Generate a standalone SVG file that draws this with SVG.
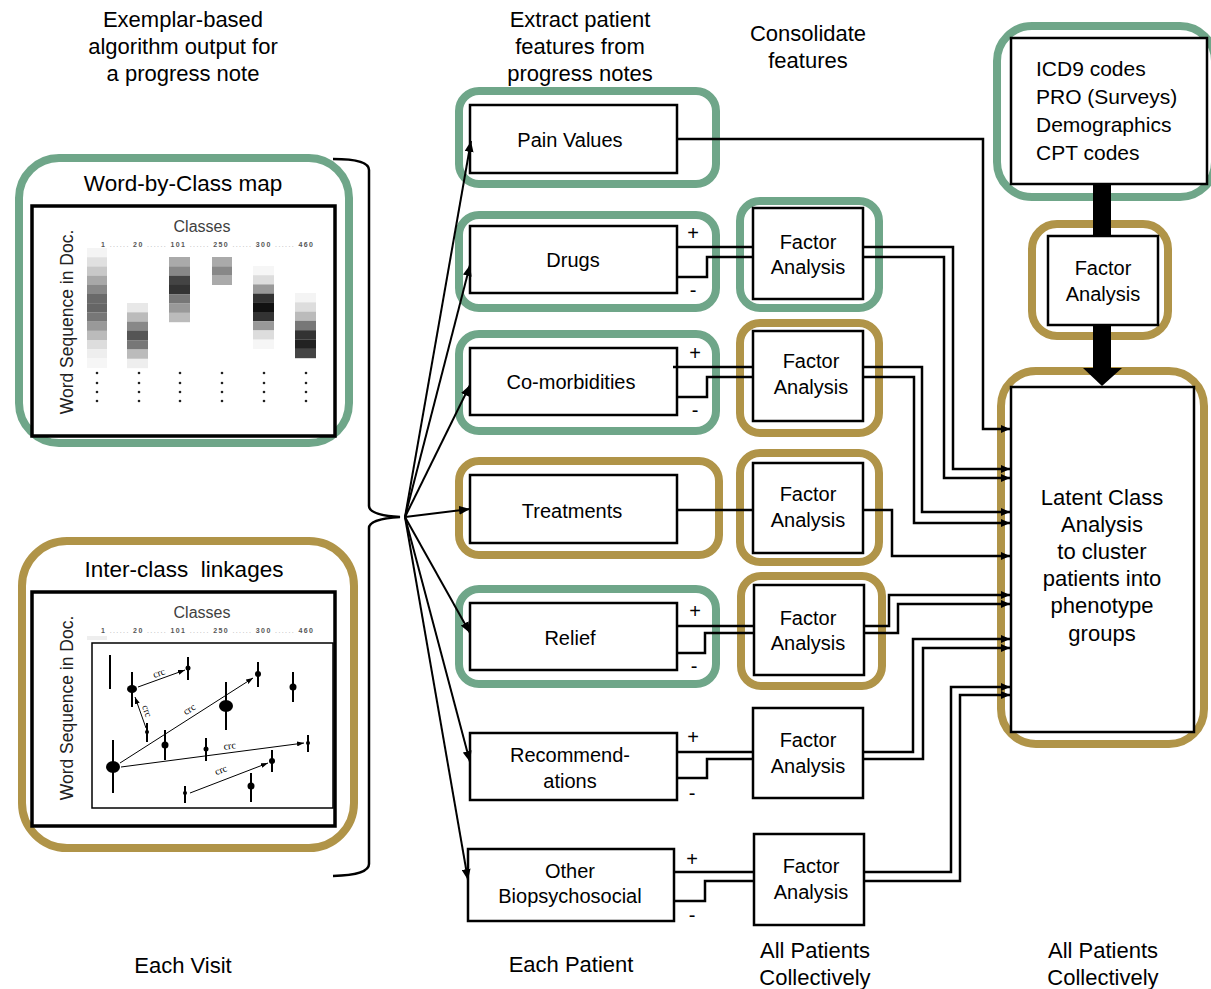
<svg xmlns="http://www.w3.org/2000/svg" width="1211" height="989" viewBox="0 0 1211 989">
<defs>
<style>
text{font-family:"Liberation Sans",Arial,sans-serif;fill:#000}
.lbl{font-size:20px;text-anchor:middle}
.hdr{font-size:22px;text-anchor:middle}
.ptl{font-size:22.5px;text-anchor:middle}
.lat{font-size:22px;text-anchor:middle}
.pm{font-size:20px;text-anchor:middle}
.box{fill:#fff;stroke:#000;stroke-width:2.5}
.inner{fill:#fff;stroke:#000;stroke-width:3.5}
.gf{fill:none;stroke:#6FA689;stroke-width:8}
.yf{fill:none;stroke:#B09448;stroke-width:8}
.conn{fill:none;stroke:#000;stroke-width:2.5}
.fan{fill:none;stroke:#000;stroke-width:2}
.cls{font-size:16px;fill:#404040;text-anchor:middle}
.num{font-size:7px;font-weight:bold;fill:#555}
.numd{fill:#aaa;font-weight:normal}
.vt{font-size:17.5px;fill:#222;text-anchor:middle}
.sc{stroke:#000;stroke-width:2}
.ar{stroke:#000;stroke-width:1;fill:none}
.crc{font-family:"Liberation Serif","Times New Roman",serif;font-size:10px;text-anchor:middle}
</style>
<marker id="ah" markerUnits="userSpaceOnUse" markerWidth="9" markerHeight="8" refX="9" refY="4" orient="auto"><path d="M0,0 L9,4 L0,8 z" fill="#000"/></marker>
<marker id="fh" markerUnits="userSpaceOnUse" markerWidth="11" markerHeight="9" refX="11" refY="4.5" orient="auto"><path d="M0,0 L11,4.5 L0,9 z" fill="#000"/></marker>
<marker id="sh" markerUnits="userSpaceOnUse" markerWidth="7" markerHeight="5" refX="7" refY="2.5" orient="auto"><path d="M0,0 L7,2.5 L0,5 z" fill="#000"/></marker>
</defs>
<rect width="1211" height="989" fill="#fff"/>

<!-- headers -->
<g id="headers">
<text class="hdr" x="183" y="27">Exemplar-based</text>
<text class="hdr" x="183" y="54">algorithm output for</text>
<text class="hdr" x="183" y="81">a progress note</text>
<text class="hdr" x="580" y="27">Extract patient</text>
<text class="hdr" x="580" y="54">features from</text>
<text class="hdr" x="580" y="81">progress notes</text>
<text class="hdr" x="808" y="41">Consolidate</text>
<text class="hdr" x="808" y="68">features</text>
<text class="hdr" x="183" y="973">Each Visit</text>
<text class="hdr" x="571" y="972">Each Patient</text>
<text class="hdr" x="815" y="958">All Patients</text>
<text class="hdr" x="815" y="985">Collectively</text>
<text class="hdr" x="1103" y="958">All Patients</text>
<text class="hdr" x="1103" y="985">Collectively</text>
</g>

<!-- Word-by-Class map panel -->
<g id="word-by-class">
<rect class="gf" x="19" y="158" width="330" height="285" rx="40"/>
<text class="ptl" x="183" y="191">Word-by-Class map</text>
<rect class="inner" x="32" y="206" width="303" height="230"/>
<text class="cls" x="202" y="232">Classes</text>
<text class="num" x="101" y="247" textLength="212" lengthAdjust="spacing">1 <tspan class="numd">......</tspan> 20 <tspan class="numd">......</tspan> 101 <tspan class="numd">......</tspan> 250 <tspan class="numd">......</tspan> 300 <tspan class="numd">......</tspan> 460</text>
<text class="vt" transform="translate(73,322) rotate(-90)">Word Sequence in Doc.</text>
<g id="col1">
<rect x="87" y="248" width="20" height="9.3" fill="#f4f4f4"/>
<rect x="87" y="257.2" width="20" height="9.3" fill="#e0e0e0"/>
<rect x="87" y="266.4" width="20" height="9.3" fill="#c8c8c8"/>
<rect x="87" y="275.6" width="20" height="9.3" fill="#a8a8a8"/>
<rect x="87" y="284.8" width="20" height="9.3" fill="#888"/>
<rect x="87" y="294" width="20" height="9.3" fill="#6a6a6a"/>
<rect x="87" y="303.2" width="20" height="9.3" fill="#666"/>
<rect x="87" y="312.4" width="20" height="9.3" fill="#777"/>
<rect x="87" y="321.6" width="20" height="9.3" fill="#999"/>
<rect x="87" y="330.8" width="20" height="9.3" fill="#bbb"/>
<rect x="87" y="340" width="20" height="9.3" fill="#ddd"/>
<rect x="87" y="349.2" width="20" height="9.3" fill="#eee"/>
<rect x="87" y="358.4" width="20" height="9.6" fill="#f6f6f6"/>
</g>
<g id="col2">
<rect x="127" y="303" width="21" height="9.4" fill="#e8e8e8"/>
<rect x="127" y="312.3" width="21" height="9.4" fill="#bbb"/>
<rect x="127" y="321.6" width="21" height="9.4" fill="#888"/>
<rect x="127" y="330.9" width="21" height="9.4" fill="#555"/>
<rect x="127" y="340.2" width="21" height="9.4" fill="#777"/>
<rect x="127" y="349.5" width="21" height="9.4" fill="#bbb"/>
<rect x="127" y="358.8" width="21" height="9.4" fill="#eee"/>
</g>
<g id="col3">
<rect x="169" y="257" width="21" height="9.4" fill="#aaa"/>
<rect x="169" y="266.3" width="21" height="9.4" fill="#888"/>
<rect x="169" y="275.6" width="21" height="9.4" fill="#444"/>
<rect x="169" y="284.9" width="21" height="9.4" fill="#333"/>
<rect x="169" y="294.2" width="21" height="9.4" fill="#777"/>
<rect x="169" y="303.5" width="21" height="9.4" fill="#999"/>
<rect x="169" y="312.8" width="21" height="9.4" fill="#bbb"/>
</g>
<g id="col4">
<rect x="212" y="257" width="20" height="9.4" fill="#aaa"/>
<rect x="212" y="266.3" width="20" height="9.4" fill="#888"/>
<rect x="212" y="275.6" width="20" height="9.4" fill="#aaa"/>
</g>
<g id="col5">
<rect x="253" y="266" width="21" height="9.3" fill="#f6f6f6"/>
<rect x="253" y="275.2" width="21" height="9.3" fill="#ddd"/>
<rect x="253" y="284.4" width="21" height="9.3" fill="#999"/>
<rect x="253" y="293.6" width="21" height="9.3" fill="#333"/>
<rect x="253" y="302.8" width="21" height="9.3" fill="#111"/>
<rect x="253" y="312" width="21" height="9.3" fill="#333"/>
<rect x="253" y="321.2" width="21" height="9.3" fill="#999"/>
<rect x="253" y="330.4" width="21" height="9.3" fill="#ddd"/>
<rect x="253" y="339.6" width="21" height="9.3" fill="#f6f6f6"/>
</g>
<g id="col6">
<rect x="295" y="293" width="21" height="9.4" fill="#f4f4f4"/>
<rect x="295" y="302.3" width="21" height="9.4" fill="#ddd"/>
<rect x="295" y="311.6" width="21" height="9.4" fill="#bbb"/>
<rect x="295" y="320.9" width="21" height="9.4" fill="#777"/>
<rect x="295" y="330.2" width="21" height="9.4" fill="#333"/>
<rect x="295" y="339.5" width="21" height="9.4" fill="#222"/>
<rect x="295" y="348.8" width="21" height="9.4" fill="#444"/>
</g>
<g id="dots" fill="#222">
<circle cx="97" cy="373" r="1.3"/><circle cx="97" cy="383" r="1.3"/><circle cx="97" cy="392" r="1.3"/><circle cx="97" cy="401" r="1.3"/>
<circle cx="139" cy="373" r="1.3"/><circle cx="139" cy="383" r="1.3"/><circle cx="139" cy="392" r="1.3"/><circle cx="139" cy="401" r="1.3"/>
<circle cx="180" cy="373" r="1.3"/><circle cx="180" cy="383" r="1.3"/><circle cx="180" cy="392" r="1.3"/><circle cx="180" cy="401" r="1.3"/>
<circle cx="222" cy="373" r="1.3"/><circle cx="222" cy="383" r="1.3"/><circle cx="222" cy="392" r="1.3"/><circle cx="222" cy="401" r="1.3"/>
<circle cx="264" cy="373" r="1.3"/><circle cx="264" cy="383" r="1.3"/><circle cx="264" cy="392" r="1.3"/><circle cx="264" cy="401" r="1.3"/>
<circle cx="306" cy="373" r="1.3"/><circle cx="306" cy="383" r="1.3"/><circle cx="306" cy="392" r="1.3"/><circle cx="306" cy="401" r="1.3"/>
</g>
</g>

<!-- Inter-class linkages panel -->
<g id="inter-class">
<rect class="yf" x="22" y="541" width="332" height="307" rx="45"/>
<text class="ptl" x="184" y="577" xml:space="preserve">Inter-class  linkages</text>
<rect class="inner" x="32" y="592" width="303" height="234"/>
<text class="cls" x="202" y="618">Classes</text>
<text class="num" x="101" y="633" textLength="212" lengthAdjust="spacing">1 <tspan class="numd">......</tspan> 20 <tspan class="numd">......</tspan> 101 <tspan class="numd">......</tspan> 250 <tspan class="numd">......</tspan> 300 <tspan class="numd">......</tspan> 460</text>
<rect x="87" y="636" width="20" height="4" fill="#eee"/>
<text class="vt" transform="translate(73,708) rotate(-90)">Word Sequence in Doc.</text>
<rect x="92" y="643" width="241" height="165" fill="none" stroke="#000" stroke-width="1.5"/>
<g id="scatter">
<line class="sc" x1="110" y1="655" x2="110" y2="689"/>
<line class="sc" x1="132" y1="672" x2="132" y2="707"/><ellipse cx="132" cy="689" rx="5" ry="4"/>
<line class="sc" x1="188" y1="657" x2="188" y2="680"/><circle cx="188" cy="668" r="2.5"/>
<line class="sc" x1="258" y1="662" x2="258" y2="687"/><circle cx="258" cy="674" r="3"/>
<line class="sc" x1="293" y1="672" x2="293" y2="702"/><circle cx="293" cy="687" r="3.5"/>
<line class="sc" x1="226" y1="682" x2="226" y2="730"/><ellipse cx="226" cy="706" rx="7" ry="6"/>
<line class="sc" x1="147" y1="723" x2="147" y2="742"/><circle cx="147" cy="732" r="2"/>
<line class="sc" x1="165" y1="730" x2="165" y2="760"/><circle cx="165" cy="745" r="3.5"/>
<line class="sc" x1="206" y1="738" x2="206" y2="761"/><circle cx="206" cy="749" r="2.5"/>
<line class="sc" x1="308" y1="735" x2="308" y2="752"/><circle cx="308" cy="743" r="2"/>
<line class="sc" x1="272" y1="750" x2="272" y2="772"/><circle cx="272" cy="761" r="3"/>
<line class="sc" x1="113" y1="740" x2="113" y2="793"/><ellipse cx="113" cy="767" rx="7" ry="6"/>
<line class="sc" x1="251" y1="773" x2="251" y2="802"/><circle cx="251" cy="786" r="3.5"/>
<line class="sc" x1="185" y1="786" x2="185" y2="803"/><circle cx="185" cy="793" r="2"/>
<line class="ar" x1="138" y1="687" x2="185" y2="670" marker-end="url(#sh)"/>
<line class="ar" x1="146" y1="728" x2="135" y2="697" marker-end="url(#sh)"/>
<line class="ar" x1="120" y1="763" x2="253" y2="678" marker-end="url(#sh)"/>
<line class="ar" x1="121" y1="767" x2="304" y2="743" marker-end="url(#sh)"/>
<line class="ar" x1="190" y1="793" x2="268" y2="763" marker-end="url(#sh)"/>
<text class="crc" transform="translate(160,676) rotate(-19)">crc</text>
<text class="crc" transform="translate(144,712) rotate(72)">crc</text>
<text class="crc" transform="translate(191,712) rotate(-32)">crc</text>
<text class="crc" transform="translate(230,749) rotate(-7)">crc</text>
<text class="crc" transform="translate(222,773) rotate(-21)">crc</text>
</g>
</g>

<!-- middle column nodes -->
<g id="pain-values">
<rect class="gf" x="459" y="91" width="257" height="93" rx="20"/>
<rect class="box" x="470" y="105" width="207" height="68"/>
<text class="lbl" x="570" y="147">Pain Values</text>
</g>
<g id="drugs">
<rect class="gf" x="459" y="215" width="257" height="93" rx="20"/>
<rect class="box" x="470" y="226" width="207" height="67"/>
<text class="lbl" x="573" y="267">Drugs</text>
<text class="pm" x="693" y="240">+</text>
<text class="pm" x="693" y="297">-</text>
</g>
<g id="co-morbidities">
<rect class="gf" x="459" y="334" width="257" height="97" rx="20"/>
<rect class="box" x="470" y="348" width="207" height="67"/>
<text class="lbl" x="571" y="389">Co-morbidities</text>
<text class="pm" x="695" y="360">+</text>
<text class="pm" x="695" y="417">-</text>
</g>
<g id="treatments">
<rect class="yf" x="459" y="461" width="260" height="94" rx="20"/>
<rect class="box" x="470" y="475" width="207" height="68"/>
<text class="lbl" x="572" y="518">Treatments</text>
</g>
<g id="relief">
<rect class="gf" x="459" y="589" width="257" height="95" rx="20"/>
<rect class="box" x="470" y="603" width="207" height="67"/>
<text class="lbl" x="570" y="645">Relief</text>
<text class="pm" x="695" y="618">+</text>
<text class="pm" x="694" y="673">-</text>
</g>
<g id="recommendations">
<rect class="box" x="470" y="733" width="207" height="67"/>
<text class="lbl" x="570" y="762">Recommend-</text>
<text class="lbl" x="570" y="788">ations</text>
<text class="pm" x="693" y="744">+</text>
<text class="pm" x="692" y="800">-</text>
</g>
<g id="other-biopsychosocial">
<rect class="box" x="468" y="849" width="206" height="72"/>
<text class="lbl" x="570" y="878">Other</text>
<text class="lbl" x="570" y="903">Biopsychosocial</text>
<text class="pm" x="692" y="866">+</text>
<text class="pm" x="692" y="922">-</text>
</g>

<!-- factor analysis nodes -->
<g id="fa-drugs">
<rect class="gf" x="740" y="201" width="139" height="107" rx="20"/>
<rect class="box" x="753" y="208" width="110" height="91"/>
<text class="lbl" x="808" y="249">Factor</text>
<text class="lbl" x="808" y="274">Analysis</text>
</g>
<g id="fa-comorbidities">
<rect class="yf" x="740" y="323" width="139" height="110" rx="20"/>
<rect class="box" x="753" y="331" width="110" height="90"/>
<text class="lbl" x="811" y="368">Factor</text>
<text class="lbl" x="811" y="394">Analysis</text>
</g>
<g id="fa-treatments">
<rect class="yf" x="740" y="453" width="139" height="109" rx="20"/>
<rect class="box" x="753" y="463" width="110" height="90"/>
<text class="lbl" x="808" y="501">Factor</text>
<text class="lbl" x="808" y="527">Analysis</text>
</g>
<g id="fa-relief">
<rect class="yf" x="741" y="576" width="141" height="110" rx="20"/>
<rect class="box" x="754" y="585" width="110" height="90"/>
<text class="lbl" x="808" y="625">Factor</text>
<text class="lbl" x="808" y="650">Analysis</text>
</g>
<g id="fa-recommendations">
<rect class="box" x="753" y="708" width="110" height="90"/>
<text class="lbl" x="808" y="747">Factor</text>
<text class="lbl" x="808" y="773">Analysis</text>
</g>
<g id="fa-other">
<rect class="box" x="754" y="834" width="110" height="91"/>
<text class="lbl" x="811" y="873">Factor</text>
<text class="lbl" x="811" y="899">Analysis</text>
</g>

<!-- right column nodes -->
<g id="structured-data">
<rect class="gf" x="997" y="26" width="218" height="171" rx="35"/>
<rect class="box" x="1011" y="38" width="196" height="146"/>
<text x="1036" y="76" font-size="21">ICD9 codes</text>
<text x="1036" y="104" font-size="21">PRO (Surveys)</text>
<text x="1036" y="132" font-size="21">Demographics</text>
<text x="1036" y="160" font-size="21">CPT codes</text>
</g>
<g id="fa-structured">
<rect class="yf" x="1032" y="224" width="136" height="112" rx="25"/>
<rect class="box" x="1048" y="236" width="110" height="89"/>
<text class="lbl" x="1103" y="275">Factor</text>
<text class="lbl" x="1103" y="301">Analysis</text>
</g>
<g id="latent-class">
<rect class="yf" x="1001" y="371" width="203" height="373" rx="35"/>
<rect class="box" x="1011" y="387" width="183" height="345"/>
<text class="lat" x="1102" y="505">Latent Class</text>
<text class="lat" x="1102" y="532">Analysis</text>
<text class="lat" x="1102" y="559">to cluster</text>
<text class="lat" x="1102" y="586">patients into</text>
<text class="lat" x="1102" y="613">phenotype</text>
<text class="lat" x="1102" y="641">groups</text>
</g>

<!-- connectors -->
<g id="connectors">
<path class="conn" d="M333,159 Q369,159 369,170 L369,506 Q369,515 400,517 Q369,519 369,528 L369,864 Q369,875 333,876" stroke-width="3"/>
<line class="fan" x1="405" y1="517" x2="471" y2="141" marker-end="url(#fh)"/>
<line class="fan" x1="405" y1="517" x2="470" y2="265" marker-end="url(#fh)"/>
<line class="fan" x1="405" y1="517" x2="470" y2="385" marker-end="url(#fh)"/>
<line class="fan" x1="405" y1="517" x2="470" y2="509" marker-end="url(#fh)"/>
<line class="fan" x1="405" y1="517" x2="470" y2="633" marker-end="url(#fh)"/>
<line class="fan" x1="405" y1="517" x2="470" y2="762" marker-end="url(#fh)"/>
<line class="fan" x1="405" y1="517" x2="468" y2="880" marker-end="url(#fh)"/>

<path class="conn" d="M677,139 H983 V429 H1010" marker-end="url(#ah)"/>

<path class="conn" d="M677,247 H753"/>
<path class="conn" d="M677,277 H707 V257 H753"/>
<path class="conn" d="M863,247 H953 V469 H1010" marker-end="url(#ah)"/>
<path class="conn" d="M863,257 H944 V478 H1010" marker-end="url(#ah)"/>

<path class="conn" d="M673,367 H753"/>
<path class="conn" d="M677,397 H707 V377 H753"/>
<path class="conn" d="M863,367 H922 V512 H1010" marker-end="url(#ah)"/>
<path class="conn" d="M863,377 H914 V523 H1010" marker-end="url(#ah)"/>

<path class="conn" d="M677,510 H753"/>
<path class="conn" d="M863,510 H892 V556 H1010" marker-end="url(#ah)"/>

<path class="conn" d="M677,626 H754"/>
<path class="conn" d="M677,653 H705 V633 H754"/>
<path class="conn" d="M864,626 H889 V595 H1010" marker-end="url(#ah)"/>
<path class="conn" d="M864,633 H898 V604 H1010" marker-end="url(#ah)"/>

<path class="conn" d="M677,752 H753"/>
<path class="conn" d="M677,778 H707 V759 H753"/>
<path class="conn" d="M863,752 H913 V639 H1010" marker-end="url(#ah)"/>
<path class="conn" d="M863,759 H923 V648 H1010" marker-end="url(#ah)"/>

<path class="conn" d="M674,872 H754"/>
<path class="conn" d="M674,901 H705 V881 H754"/>
<path class="conn" d="M864,872 H951 V687 H1010" marker-end="url(#ah)"/>
<path class="conn" d="M864,881 H960 V695 H1010" marker-end="url(#ah)"/>

<line x1="1102" y1="185" x2="1102" y2="235" stroke="#000" stroke-width="18"/>
<line x1="1102" y1="326" x2="1102" y2="369" stroke="#000" stroke-width="18"/>
<path d="M1083,368 L1122,368 L1102,386 z" fill="#000"/>
</g>
</svg>
